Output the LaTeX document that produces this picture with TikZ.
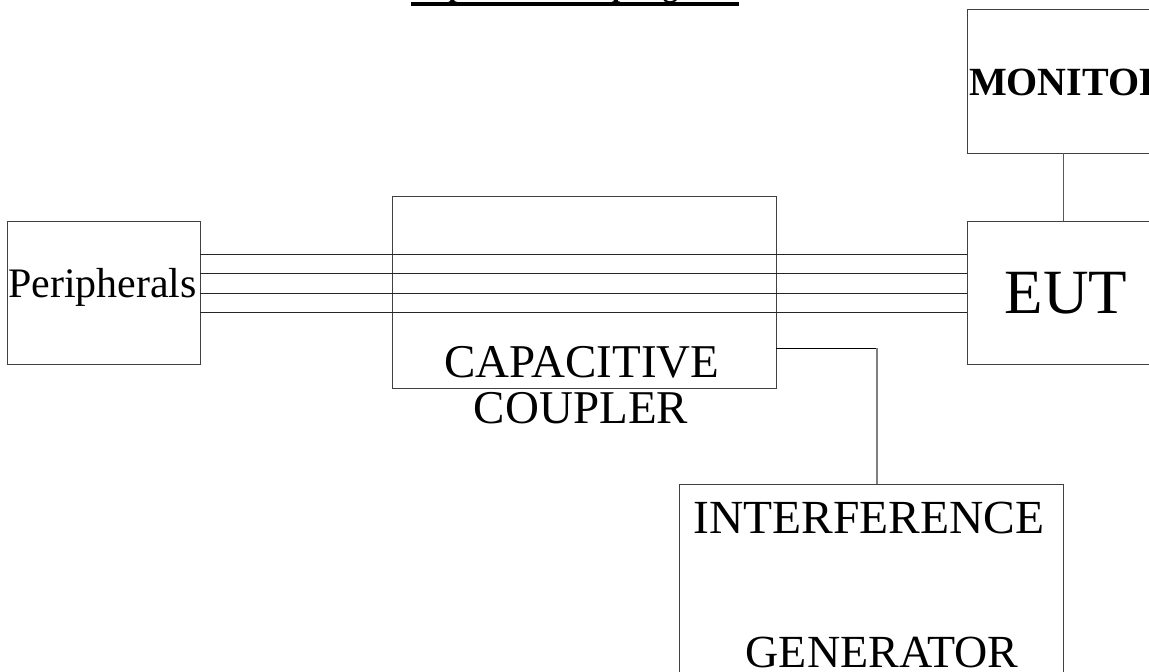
\documentclass[tikz,border=0pt]{standalone}
\usepackage{fontspec}
\setmainfont{Liberation Serif}
\begin{document}
\begin{tikzpicture}[x=1pt,y=-1pt,
  blk/.style={draw=black!75,line width=1pt,inner sep=0pt,outer sep=0pt},
  wire/.style={draw=black!85,line width=1pt},
  txt/.style={inner sep=0pt,outer sep=0pt,anchor=base}]
\useasboundingbox (0,0) rectangle (1149,672);
\fill[white] (0,0) rectangle (1149,672);
% boxes
\node[blk,minimum width=193pt,minimum height=143pt] (per) at (103.5,292.5) {};
\node[blk,minimum width=384pt,minimum height=192pt] (coup) at (584,292) {};
\node[blk,minimum width=233pt,minimum height=143pt] (eut) at (1083.5,292.5) {};
\node[blk,minimum width=233pt,minimum height=144pt] (mon) at (1083.5,81) {};
\node[blk,minimum width=384pt,minimum height=236pt] (gen) at (871,602) {};
% helper coordinates
\coordinate (l1) at (0,254);
\coordinate (l2) at (0,273);
\coordinate (l3) at (0,293);
\coordinate (l4) at (0,312);
\coordinate (mx) at (1063,0);
\coordinate (gy) at (0,348);
\coordinate (gx) at (877,0);
\coordinate (corner) at (877,348);
% cable lines
\foreach \l in {l1,l2,l3,l4}
  \draw[wire] (per.east |- \l) -- (eut.west |- \l);
% monitor to EUT
\draw[wire,draw=black!65] (mon.south -| mx) -- (eut.north -| mx);
% coupler to generator
\draw[wire,draw=black] (coup.east |- gy) -- (corner);
\draw[draw=black!50,line width=2pt] (corner) -- (gen.north -| gx);
% texts
\node[txt,font=\fontsize{30.5}{30.5}\selectfont\bfseries] (title) at (575,-3.5) {Capacitive Coupling Test};
\draw[line width=4pt] ([yshift=-7.5pt]title.base west) -- ([yshift=-7.5pt]title.base east);
\node[txt,font=\fontsize{42}{42}\selectfont] (tper) at (102.5,297) {Peripherals};
\node[txt,font=\fontsize{47}{47}\selectfont] (tcap) at (582,377) {CAPACITIVE};
\node[txt,font=\fontsize{47}{47}\selectfont] (tcou) at (581,423) {COUPLER};
\node[txt,font=\fontsize{63}{63}\selectfont] (teut) at (1066,313) {EUT};
\node[txt,anchor=base west,font=\fontsize{40}{40}\selectfont\bfseries] (tmon) at (969,95) {MONITOR};
\node[txt,font=\fontsize{47.5}{47.5}\selectfont] (tint) at (869,533) {INTERFERENCE};
\node[txt,font=\fontsize{46}{46}\selectfont] (tgen) at (882,667) {GENERATOR};
\end{tikzpicture}
\end{document}
